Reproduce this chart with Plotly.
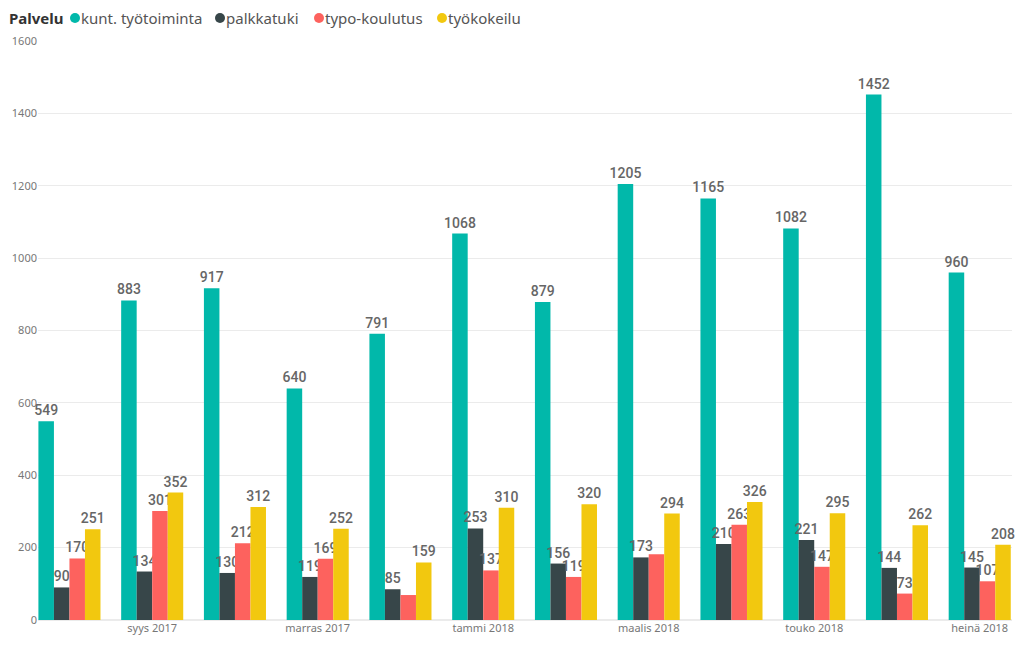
import plotly.graph_objects as go

months = ["elo 2017", "syys 2017", "loka 2017", "marras 2017", "joulu 2017", "tammi 2018",
          "helmi 2018", "maalis 2018", "huhti 2018", "touko 2018", "kesä 2018", "heinä 2018"]
tick_months = ["syys 2017", "marras 2017", "tammi 2018", "maalis 2018", "touko 2018", "heinä 2018"]

kunt = [549, 883, 917, 640, 791, 1068, 879, 1205, 1165, 1082, 1452, 960]
palkka = [90, 134, 130, 119, 85, 253, 156, 173, 210, 221, 144, 145]
typo = [170, 301, 212, 169, 69, 137, 119, 182, 263, 147, 73, 107]
tyokokeilu = [251, 352, 312, 252, 159, 310, 320, 294, 326, 295, 262, 208]

legend_title = "Palvelu"
series = [
    ("kunt. työtoiminta", kunt, "#01B8AA", []),
    ("palkkatuki", palkka, "#374649", []),
    ("typo-koulutus", typo, "#FD625E", [4, 7]),
    ("työkokeilu", tyokokeilu, "#F2C80F", []),
]

# legend row layout (pixel positions in the figure frame)
PLOT_L, PLOT_W, PLOT_B, PLOT_H = 30, 974, 27, 579
FIG_W, FIG_H = 1016, 639
legend_dot_px = [67, 212, 311, 434]
legend_row_px = 10  # distance from figure top


def px_to_paper_x(px):
    return (px - PLOT_L) / PLOT_W


def px_to_paper_y(py_from_top):
    return (FIG_H - PLOT_B - py_from_top) / PLOT_H


fig = go.Figure()
for name, vals, color, hidden in series:
    texts = ["" if i in hidden else str(v) for i, v in enumerate(vals)]
    fig.add_trace(go.Bar(
        x=months, y=vals, name=name, marker_color=color, marker_line_width=0,
        text=texts, textposition="outside", cliponaxis=False,
        textfont=dict(family="Roboto, DejaVu Sans", size=14, weight=500, color="#666666"),
        showlegend=False, hoverinfo="x+y+name",
    ))

ly = px_to_paper_y(legend_row_px)
fig.add_annotation(
    text=f"<b>{legend_title}</b>", xref="paper", yref="paper",
    x=px_to_paper_x(1), y=ly, xanchor="left", yanchor="middle", showarrow=False,
    borderpad=0, borderwidth=0,
    font=dict(family="Noto Sans, Open Sans", size=15, color="#333333"),
)
for (name, _, color, _), dx in zip(series, legend_dot_px):
    fig.add_shape(
        type="circle", xref="paper", yref="paper",
        xsizemode="pixel", ysizemode="pixel",
        xanchor=px_to_paper_x(dx), yanchor=ly,
        x0=-5, x1=5, y0=-5, y1=5,
        fillcolor=color, line_width=0,
    )
    fig.add_annotation(
        text=name, xref="paper", yref="paper",
        x=px_to_paper_x(dx + 6), y=ly, xanchor="left", yanchor="middle", showarrow=False,
        borderpad=0, borderwidth=0,
        font=dict(family="Noto Sans, Open Sans", size=15, color="#555555"),
    )

fig.update_layout(
    width=FIG_W, height=FIG_H,
    margin=dict(l=PLOT_L, r=12, t=33, b=PLOT_B, autoexpand=False),
    plot_bgcolor="white", paper_bgcolor="white",
    barmode="group", bargap=0.25, bargroupgap=0,
    uniformtext=dict(mode="show", minsize=14),
    font=dict(family="Noto Sans, Open Sans", color="#777777"),
    showlegend=False,
    xaxis=dict(
        type="category", categoryorder="array", categoryarray=months,
        tickvals=tick_months, ticktext=tick_months,
        range=[-0.38, 11.39], showgrid=False, showline=False, ticks="",
        tickfont=dict(size=11, color="#777777"),
    ),
    yaxis=dict(
        range=[0, 1600], dtick=200, showgrid=True, gridcolor="#ebebeb",
        zeroline=True, zerolinecolor="#ebebeb", showline=False, ticks="",
        tickfont=dict(size=11, color="#777777"),
    ),
)

fig.write_html("out.html")
